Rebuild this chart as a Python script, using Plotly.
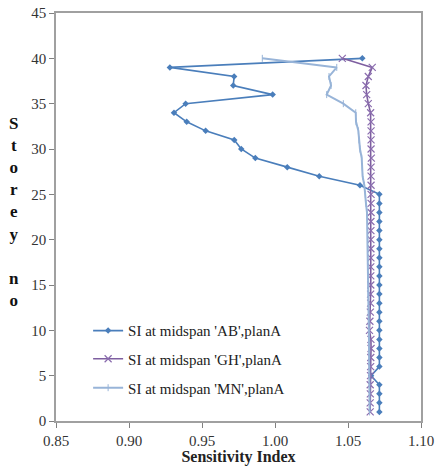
import plotly.graph_objects as go

storey = list(range(1, 41))

si_ab = [1.0715, 1.0715, 1.0715, 1.0715, 1.0658, 1.0715, 1.0715, 1.0715, 1.0715, 1.0715,
         1.0715, 1.0715, 1.0715, 1.0715, 1.0715, 1.0715, 1.0715, 1.0715, 1.0715, 1.0715,
         1.0715, 1.0715, 1.0715, 1.0715, 1.0715, 1.0582, 1.0303, 1.0084, 0.9865, 0.9769,
         0.9721, 0.9525, 0.9395, 0.9308, 0.9388, 0.9984, 0.9714, 0.9720, 0.9280, 1.0598]

si_gh = [1.0652, 1.0652, 1.0653, 1.0652, 1.0654, 1.0655, 1.0656, 1.0658, 1.0657, 1.0647,
         1.0650, 1.0653, 1.0655, 1.0655, 1.0656, 1.0656, 1.0656, 1.0657, 1.0657, 1.0657,
         1.0657, 1.0657, 1.0658, 1.0658, 1.0658, 1.0658, 1.0658, 1.0658, 1.0660, 1.0658,
         1.0658, 1.0658, 1.0658, 1.0655, 1.0639, 1.0628, 1.0623, 1.0639, 1.0666, 1.0461]

si_mn = [1.0648, 1.0648, 1.0647, 1.0647, 1.0646, 1.0646, 1.0646, 1.0645, 1.0644, 1.0643,
         1.0642, 1.0641, 1.0640, 1.0638, 1.0637, 1.0638, 1.0636, 1.0636, 1.0637, 1.0636,
         1.0635, 1.0634, 1.0630, 1.0623, 1.0619, 1.0612, 1.0600, 1.0598, 1.0594, 1.0582,
         1.0575, 1.0571, 1.0555, 1.0553, 1.0468, 1.0354, 1.0384, 1.0370, 1.0423, 0.9913]

names = ["SI at midspan 'AB',planA", "SI at midspan 'GH',planA", "SI at midspan 'MN',planA"]

serif = "Liberation Serif"

fig = go.Figure()
fig.add_trace(go.Scatter(
    x=si_ab, y=storey, mode="lines+markers", name=names[0], legend="legend",
    line=dict(color="#4a7ebb", width=1.6),
    marker=dict(symbol="diamond", size=5, color="#4a7ebb"),
))
fig.add_trace(go.Scatter(
    x=si_gh, y=storey, mode="lines+markers", name=names[1], legend="legend2",
    line=dict(color="#7e5fa0", width=1.6),
    marker=dict(symbol="x-thin", size=7, line=dict(color="#8a6cae", width=1.2)),
))
fig.add_trace(go.Scatter(
    x=si_mn, y=storey, mode="lines+markers", name=names[2], legend="legend3",
    line=dict(color="#98b4d8", width=2),
    marker=dict(symbol="line-ns", size=5, line=dict(color="#98b4d8", width=1)),
))

fig.update_xaxes(range=[0.85, 1.10], dtick=0.05, tickformat=".2f", automargin=False,
                 showgrid=False, zeroline=False,
                 showline=True, linecolor="#a0a0a0", linewidth=1.5, mirror=True,
                 ticks="outside", ticklen=5, tickcolor="#808080",
                 tickfont=dict(family=serif, size=15, color="#333"),
                 title=dict(text="<b>Sensitivity Index</b>", standoff=0,
                            font=dict(family=serif, size=16, color="#222")))
fig.update_yaxes(range=[0, 45], dtick=5, automargin=False,
                 showgrid=False, zeroline=False,
                 showline=True, linecolor="#a0a0a0", linewidth=1.5, mirror=True,
                 ticks="outside", ticklen=5, tickcolor="#808080",
                 tickfont=dict(family=serif, size=15, color="#333"))

fig.add_annotation(text="<b>S<br>t<br>o<br>r<br>e<br>y<br><br>n<br>o</b>",
                   xref="paper", yref="paper", x=-0.115, y=0.757,
                   xanchor="center", yanchor="top", showarrow=False, align="center",
                   font=dict(family=serif, size=17, color="#111"))

leg = dict(x=0.088, xanchor="left", yanchor="middle", bgcolor="rgba(0,0,0,0)",
           font=dict(family=serif, size=15, color="#222"))

fig.update_layout(
    width=435, height=466,
    margin=dict(l=56, r=14, t=13, b=45),
    plot_bgcolor="white", paper_bgcolor="white",
    showlegend=True,
    legend=dict(leg, y=0.221),
    legend2=dict(leg, y=0.152),
    legend3=dict(leg, y=0.081),
)

# drop the default 8px page margin so the figure sits at the window's corner
fig.write_html("out.html", config={"displayModeBar": False},
               post_script="document.body.style.margin='0';")
